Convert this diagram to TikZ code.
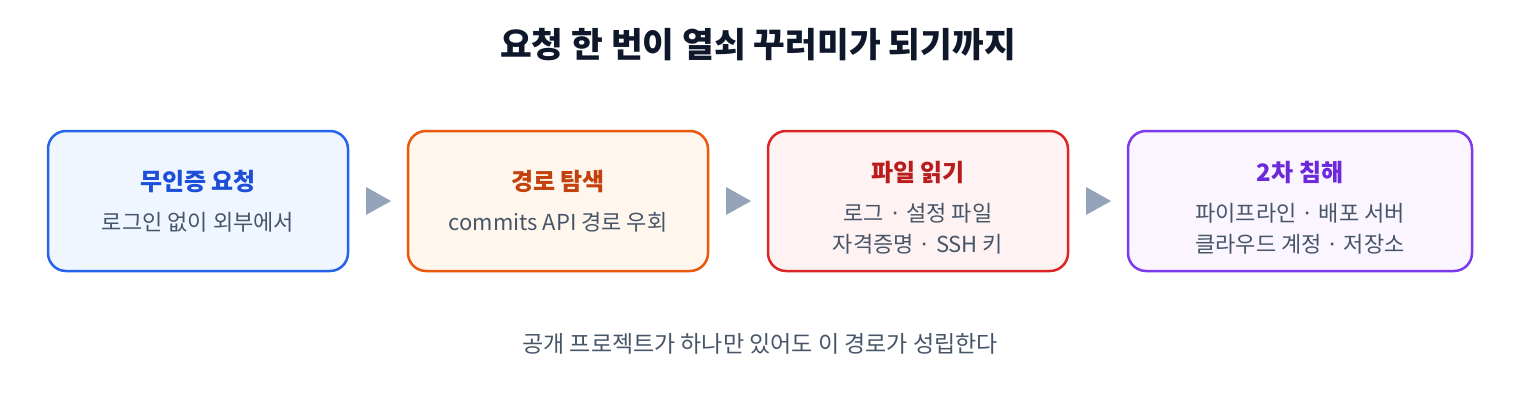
\documentclass[tikz,border=0pt]{standalone}
\usepackage{fontspec}
\setmainfont{Noto Sans CJK KR}
\usepackage{tikz}
\usetikzlibrary{positioning}

\definecolor{bluestroke}{HTML}{2563EB}
\definecolor{bluefill}{HTML}{EFF6FF}
\definecolor{bluetext}{HTML}{1D4ED8}
\definecolor{orangestroke}{HTML}{EA580C}
\definecolor{orangefill}{HTML}{FFF7ED}
\definecolor{orangetext}{HTML}{C2410C}
\definecolor{redstroke}{HTML}{DC2626}
\definecolor{redfill}{HTML}{FEF2F2}
\definecolor{redtext}{HTML}{B91C1C}
\definecolor{purplestroke}{HTML}{7C3AED}
\definecolor{purplefill}{HTML}{FAF5FF}
\definecolor{purpletext}{HTML}{6D28D9}
\definecolor{bodygray}{HTML}{475569}
\definecolor{titledark}{HTML}{0F172A}
\definecolor{arrowgray}{HTML}{94A3B8}

\begin{document}
\begin{tikzpicture}[
x=1pt,y=-1pt,
stage/.style={draw,line width=2.5pt,rounded corners=18pt,minimum width=300pt,
  minimum height=140pt,align=center,text=bodygray,inner sep=0pt,outer sep=0pt,
  font=\fontsize{22}{31}\selectfont},
scale=1]
    % Canvas
    \useasboundingbox (0,0) rectangle (1520,400);

    % Title
    \node (title) at (758,45) [text=titledark,font=\bfseries\fontsize{34.5}{40}\selectfont]
        {요청 한 번이 열쇠 꾸러미가 되기까지};

    % Draw stages
    \node[stage,draw=bluestroke,fill=bluefill] (s1) at (198,201)
        {{\color{bluetext}\bfseries\fontsize{24}{31}\selectfont 무인증 요청}\\[9pt]
         로그인 없이 외부에서};
    \coordinate[right=18pt of s1] (t1);
    \node[stage,draw=orangestroke,fill=orangefill,right=60pt of s1.east,anchor=west] (s2)
        {{\color{orangetext}\bfseries\fontsize{24}{31}\selectfont 경로 탐색}\\[9pt]
         commits API 경로 우회};
    \coordinate[right=18pt of s2] (t2);
    \node[stage,draw=redstroke,fill=redfill,right=60pt of s2.east,anchor=west] (s3)
        {\rule{0pt}{34pt}{\color{redtext}\bfseries\fontsize{24}{31}\selectfont 파일 읽기}\\[9pt]
         로그 · 설정 파일\\
         자격증명 · SSH 키};
    \coordinate[right=18pt of s3] (t3);
    \node[stage,draw=purplestroke,fill=purplefill,minimum width=344pt,
        right=60pt of s3.east,anchor=west] (s4)
        {\rule{0pt}{34pt}{\color{purpletext}\bfseries\fontsize{24}{31}\selectfont 2차 침해}\\[9pt]
         파이프라인 · 배포 서버\\
         클라우드 계정 · 저장소};

    % Draw arrows between stages
    \foreach \t in {t1,t2,t3}
        \fill[arrowgray] (\t) ++(0,-14) -- ++(25,14) -- ++(-25,14) -- cycle;

    % Footer
    \node (note) at (760,344) [text=bodygray,font=\fontsize{23}{28}\selectfont]
        {공개 프로젝트가 하나만 있어도 이 경로가 성립한다};

\end{tikzpicture}
\end{document}
